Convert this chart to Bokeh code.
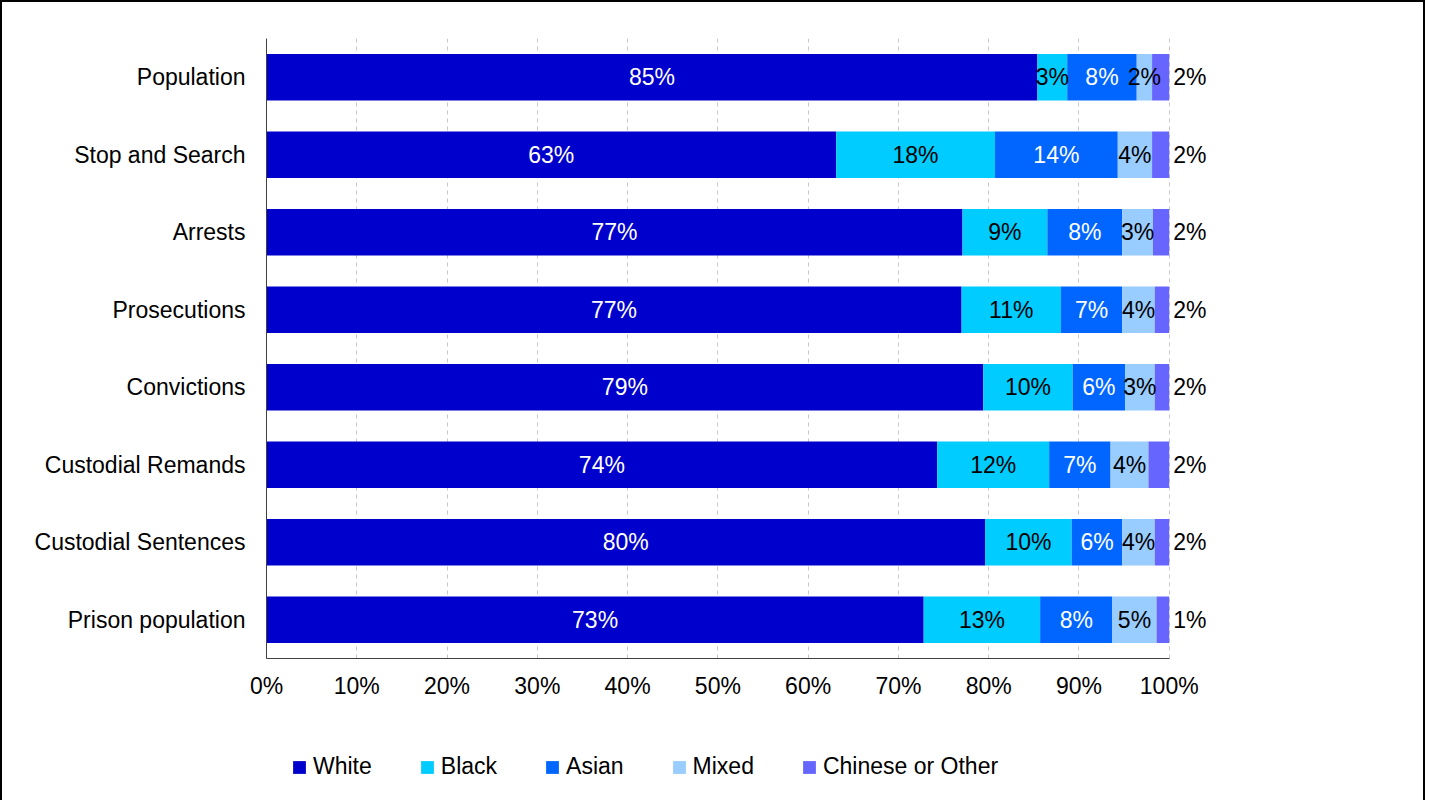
from bokeh.plotting import figure
from bokeh.layouts import column
from bokeh.models import (ColumnDataSource, FactorRange, Range1d, LabelSet, Legend,
                          LegendItem, FixedTicker, PrintfTickFormatter)
from bokeh.core.properties import value
from bokeh.embed import file_html
from bokeh.resources import INLINE

categories = ["Population", "Stop and Search", "Arrests", "Prosecutions", "Convictions",
              "Custodial Remands", "Custodial Sentences", "Prison population"]
white = [85.4, 63.1, 77.1, 77.0, 79.4, 74.3, 79.6, 72.8]
black = [3.3, 17.6, 9.4, 11.0, 9.9, 12.4, 9.6, 12.9]
asian = [7.7, 13.6, 8.3, 6.8, 5.8, 6.8, 5.6, 8.0]
mixed = [1.7, 3.8, 3.4, 3.6, 3.3, 4.2, 3.6, 4.9]
other = [1.9, 1.9, 1.8, 1.6, 1.6, 2.3, 1.6, 1.4]

series_names = ["White", "Black", "Asian", "Mixed", "Chinese or Other"]
series_keys = ["white", "black", "asian", "mixed", "other"]
series_vals = [white, black, asian, mixed, other]
colors = ["#0000CC", "#00CCFF", "#0066FF", "#99CCFF", "#6666FF"]
label_colors = ["white", "black", "white", "black", "black"]
x_ticks = list(range(0, 101, 10))

FONT = "Liberation Sans"
FS = "23px"
W = 1421

data = {"cat": categories}
for k, v in zip(series_keys, series_vals):
    data[k] = v
source = ColumnDataSource(data)

p = figure(width=W, height=699, output_backend="svg", toolbar_location=None,
           y_range=FactorRange(factors=list(reversed(categories))),
           x_range=Range1d(0, 110),
           min_border_left=264, min_border_right=164, min_border_top=36, min_border_bottom=43)
p.outline_line_color = None

renderers = p.hbar_stack(series_keys, y="cat", height=0.6, color=colors, line_color=None,
                         source=source)

# value labels
for i, (k, vals) in enumerate(zip(series_keys, series_vals)):
    starts = [sum(series_vals[j][n] for j in range(i)) for n in range(len(categories))]
    if i < 4:
        xs = [s + v / 2 for s, v in zip(starts, vals)]
        align = "center"
        xoff = 0
    else:
        xs = [100] * len(categories)
        align = "left"
        xoff = 4
    lsrc = ColumnDataSource(dict(x=xs, y=categories,
                                 t=["%d%%" % round(v) for v in vals]))
    p.add_layout(LabelSet(x="x", y="y", text="t", source=lsrc, x_offset=xoff,
                          text_align=align, text_baseline="middle",
                          text_font=value(FONT), text_font_size=value(FS),
                          text_color=label_colors[i]))

# axes
p.xaxis.ticker = FixedTicker(ticks=x_ticks)
p.xaxis.formatter = PrintfTickFormatter(format="%d%%")
p.xaxis.bounds = (0, 100)
p.xaxis.major_tick_line_color = None
p.xaxis.minor_tick_line_color = None
p.xaxis.major_label_standoff = 8
p.xaxis.axis_line_color = "#404040"
p.yaxis.major_tick_line_color = None
p.yaxis.minor_tick_line_color = None
p.yaxis.major_label_standoff = 15
p.yaxis.axis_line_color = "#404040"
for ax in (p.xaxis, p.yaxis):
    ax.major_label_text_font = FONT
    ax.major_label_text_font_size = FS
    ax.major_label_text_color = "black"

p.xgrid.ticker = FixedTicker(ticks=x_ticks)
p.xgrid.grid_line_color = "#c8c8c8"
p.xgrid.grid_line_dash = "4 4"
p.ygrid.visible = False

# legend panel (its frame is aligned with the main frame by the column layout)
lg = figure(width=W, height=99, output_backend="svg", toolbar_location=None,
            x_range=Range1d(0, 1), y_range=Range1d(0, 1),
            min_border=0, min_border_top=0, min_border_bottom=0)
lg.axis.visible = False
lg.grid.visible = False
lg.outline_line_color = None
nan = float("nan")
leg_r = [lg.vbar(x=[nan], top=[nan], width=0.1, fill_color=c, line_color=None)
         for c in colors]
legend = Legend(items=[LegendItem(label=n, renderers=[r]) for n, r in zip(series_names, leg_r)],
                orientation="horizontal", location=(25, 20),
                border_line_color=None, background_fill_alpha=0,
                padding=0, margin=0, spacing=47, glyph_width=16, glyph_height=16,
                label_standoff=6, label_text_font=FONT, label_text_font_size=FS,
                label_text_color="black")
lg.add_layout(legend, "center")

layout = column(p, lg, spacing=0)
layout.styles = {"border-left": "2px solid black", "border-top": "2px solid black",
                 "border-right": "2px solid black"}

open("out.html", "w").write(file_html(layout, INLINE))
